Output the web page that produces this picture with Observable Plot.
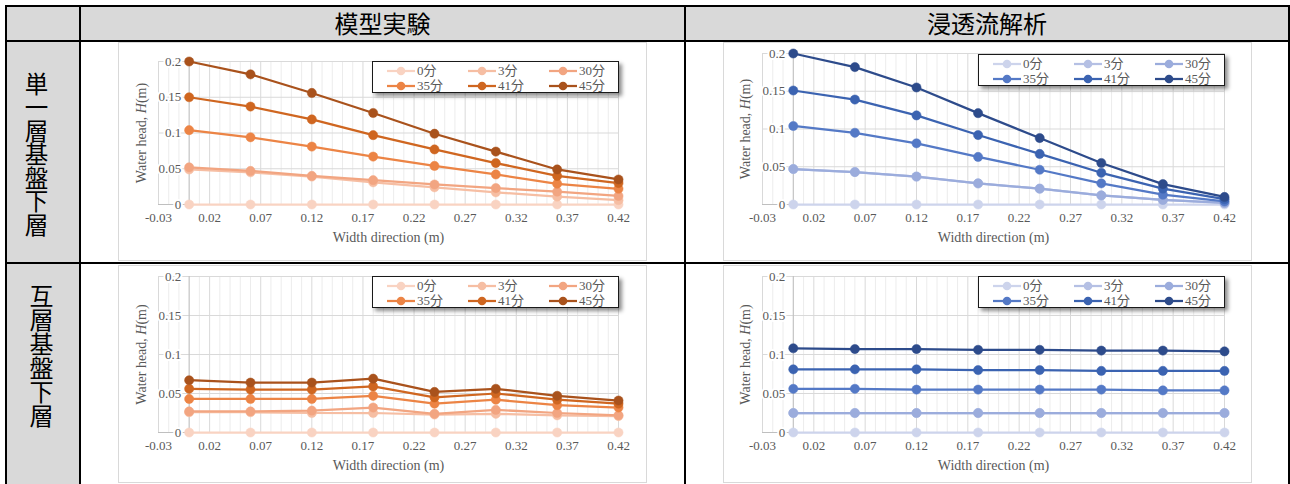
<!DOCTYPE html>
<html><head><meta charset="utf-8">
<script src="https://cdn.jsdelivr.net/npm/d3@7"></script>
<script src="https://cdn.jsdelivr.net/npm/@observablehq/plot@0.6"></script>
<style>
body{margin:0;background:#fff;}
#root{position:relative;width:1290px;height:484px;overflow:hidden;background:#fff;}
.gray{position:absolute;background:#D9D9D9;}
.bl{position:absolute;background:#000;}
.hdr{position:absolute;font-family:"Noto Sans CJK JP",sans-serif;font-size:24px;line-height:1;color:#000;text-align:center;}
.rowlab{position:absolute;font-family:"Noto Sans CJK JP",sans-serif;font-size:23.5px;line-height:1;writing-mode:vertical-rl;text-orientation:upright;color:#000;}
.chart{position:absolute;}
.chart > svg{position:absolute;left:0;top:0;}
.frame{position:absolute;left:0;top:0;right:0;bottom:0;border:1px solid #D9D9D9;pointer-events:none;}
.legend{position:absolute;background:#fff;border:1px solid #1a1a1a;box-shadow:3px 3px 4px rgba(0,0,0,0.45);box-sizing:border-box;width:247px;height:32px;padding:1px 0 0 14px;display:grid;grid-template-columns:81px 81px auto;grid-template-rows:15px 15px;font-family:"Liberation Serif","Noto Sans CJK JP",serif;font-size:13px;color:#595959;}
.legend .it{display:flex;align-items:center;white-space:nowrap;line-height:1;}
.legend .it svg{display:block;flex:none;}
.legend .it span{margin-left:2px;}
</style>
</head><body>
<div id="root"></div>
<script>
// ---- data ----
const xPositions = [0, 0.06, 0.12, 0.18, 0.24, 0.30, 0.36, 0.42];
const seriesNames = ["0分", "3分", "30分", "35分", "41分", "45分"];
const xTicks = [-0.03, 0.02, 0.07, 0.12, 0.17, 0.22, 0.27, 0.32, 0.37, 0.42];
const xTickLabels = ["-0.03", "0.02", "0.07", "0.12", "0.17", "0.22", "0.27", "0.32", "0.37", "0.42"];
const yTicks = [0, 0.05, 0.1, 0.15, 0.2];
const yTickLabels = ["0", "0.05", "0.1", "0.15", "0.2"];
const columnHeaders = ["模型実験", "浸透流解析"];
const rowHeaders = ["単一層基盤下層", "互層基盤下層"];
const xTitle = "Width direction (m)";
const yTitle = "Water head, H(m)";
const orangeColors = ["#F9D3C2", "#F6BEA3", "#F2A581", "#EC8445", "#CF6620", "#A9521C"];
const blueColors = ["#CDD4EC", "#B5C0E4", "#9BACDC", "#5479C6", "#3B63B1", "#2D4B8B"];

// 単一層基盤下層 / 模型実験
const singleExperiment = [
  [0, 0, 0, 0, 0, 0, 0, 0],
  [0.049, 0.045, 0.039, 0.031, 0.024, 0.017, 0.011, 0.006],
  [0.052, 0.047, 0.040, 0.034, 0.028, 0.023, 0.018, 0.012],
  [0.104, 0.094, 0.081, 0.067, 0.054, 0.042, 0.029, 0.022],
  [0.150, 0.137, 0.119, 0.097, 0.077, 0.058, 0.040, 0.030],
  [0.200, 0.182, 0.156, 0.128, 0.099, 0.074, 0.049, 0.035]
];
// 単一層基盤下層 / 浸透流解析
const singleAnalysis = [
  [0, 0, 0, 0, 0, 0, 0, 0],
  [0.047, 0.043, 0.037, 0.028, 0.021, 0.012, 0.006, 0.002],
  [0.047, 0.043, 0.037, 0.028, 0.021, 0.012, 0.006, 0.002],
  [0.104, 0.095, 0.081, 0.063, 0.046, 0.028, 0.013, 0.004],
  [0.151, 0.139, 0.118, 0.092, 0.067, 0.042, 0.021, 0.007],
  [0.200, 0.182, 0.155, 0.121, 0.088, 0.055, 0.027, 0.010]
];
// 互層基盤下層 / 模型実験
const layeredExperiment = [
  [0, 0, 0, 0, 0, 0, 0, 0],
  [0.026, 0.026, 0.025, 0.025, 0.023, 0.024, 0.022, 0.021],
  [0.027, 0.027, 0.028, 0.032, 0.024, 0.029, 0.025, 0.022],
  [0.043, 0.043, 0.043, 0.047, 0.037, 0.042, 0.035, 0.032],
  [0.056, 0.055, 0.055, 0.059, 0.045, 0.050, 0.042, 0.037],
  [0.067, 0.064, 0.064, 0.069, 0.052, 0.056, 0.047, 0.041]
];
// 互層基盤下層 / 浸透流解析
const layeredAnalysis = [
  [0, 0, 0, 0, 0, 0, 0, 0],
  [0.025, 0.025, 0.025, 0.025, 0.025, 0.025, 0.025, 0.025],
  [0.025, 0.025, 0.025, 0.025, 0.025, 0.025, 0.025, 0.025],
  [0.056, 0.056, 0.055, 0.055, 0.055, 0.055, 0.054, 0.054],
  [0.081, 0.081, 0.081, 0.080, 0.080, 0.079, 0.079, 0.079],
  [0.108, 0.107, 0.107, 0.106, 0.106, 0.105, 0.105, 0.104]
];

// ---- layout ----
const root = document.getElementById("root");
function box(cls, l, t, w, h) {
  const d = document.createElement("div");
  d.className = cls;
  Object.assign(d.style, {left: l + "px", top: t + "px", width: w + "px", height: h + "px"});
  root.appendChild(d);
  return d;
}
box("gray", 7, 7, 1281, 33);
box("gray", 7, 42, 72, 442);

function makeChart(values, colors, cfg) {
  const wrap = box("chart", cfg.left, cfg.top, cfg.width, cfg.height);
  const rows = values.flatMap((arr, si) => arr.map((v, i) => ({si, x: xPositions[i], y: v})));
  const minor = d3.range(0, 46).map(k => +(-0.03 + k * 0.01).toFixed(2))
    .filter(v => !xTicks.some(t => Math.abs(t - v) < 1e-9));
  const marks = [
    Plot.ruleX(minor, {stroke: "#ECECEC"}),
    Plot.ruleX(xTicks, {stroke: "#D9D9D9"}),
    Plot.ruleY(yTicks, {stroke: "#D9D9D9"}),
    Plot.ruleY([0], {stroke: "#BFBFBF"}),
    Plot.ruleX([0], {stroke: "#BFBFBF"})
  ];
  seriesNames.forEach((name, si) => {
    const d = rows.filter(r => r.si === si);
    marks.push(Plot.line(d, {x: "x", y: "y", stroke: colors[si], strokeWidth: 2.25}));
    marks.push(Plot.dot(d, {x: "x", y: "y", r: 4.6, fill: colors[si], stroke: colors[si], strokeWidth: 0.5}));
  });
  marks.push(Plot.text(yTicks, {x: 0, y: d => d, text: (d, i) => yTickLabels[i], textAnchor: "end", dx: -8,
    fill: "#595959", stroke: "white", strokeWidth: 4, paintOrder: "stroke", fontSize: 13}));
  marks.push(Plot.text(xTicks, {x: d => d, text: (d, i) => xTickLabels[i], frameAnchor: "bottom", dy: 17,
    fill: "#595959", fontSize: 13}));
  marks.push(Plot.text([xTitle], {frameAnchor: "bottom", dy: 37, fill: "#595959", fontSize: 14}));
  marks.push(Plot.text([yTitle], {frameAnchor: "left", textAnchor: "middle", dx: -17, rotate: -90, fill: "#595959", fontSize: 14}));
  const svg = Plot.plot({
    width: cfg.width, height: cfg.height,
    marginLeft: cfg.ml, marginRight: cfg.mr, marginTop: cfg.mt, marginBottom: cfg.mb,
    x: {domain: [-0.03, 0.42], axis: null},
    y: {domain: [0, 0.2], axis: null},
    style: {fontFamily: "'Liberation Serif', serif", background: "transparent", overflow: "visible"},
    marks
  });
  svg.querySelectorAll("text").forEach(t => {
    if (t.textContent === yTitle) {
      t.innerHTML = 'Water head, <tspan font-style="italic">H</tspan>(m)';
    }
  });
  wrap.appendChild(svg);
  const fr = document.createElement("div");
  fr.className = "frame";
  wrap.appendChild(fr);
  const lg = document.createElement("div");
  lg.className = "legend";
  lg.style.right = (cfg.mr - 1) + "px";
  lg.style.top = (cfg.mt + cfg.lgdy) + "px";
  seriesNames.forEach((name, si) => {
    const it = document.createElement("div");
    it.className = "it";
    it.innerHTML = `<svg width="28" height="10"><line x1="0" x2="28" y1="5" y2="5" stroke="${colors[si]}" stroke-width="2.25"/><circle cx="14" cy="5" r="4.3" fill="${colors[si]}"/></svg><span>${name}</span>`;
    lg.appendChild(it);
  });
  wrap.appendChild(lg);
}

makeChart(singleExperiment, orangeColors, {left: 118, top: 42, width: 529, height: 219, ml: 40, mr: 29, mt: 19, mb: 57, lgdy: 0});
makeChart(singleAnalysis, blueColors, {left: 723, top: 42, width: 529, height: 219, ml: 39, mr: 28, mt: 11, mb: 57, lgdy: 1});
makeChart(layeredExperiment, orangeColors, {left: 118, top: 265, width: 529, height: 218, ml: 40, mr: 29, mt: 11, mb: 51, lgdy: 0});
makeChart(layeredAnalysis, blueColors, {left: 723, top: 265, width: 529, height: 218, ml: 39, mr: 28, mt: 11, mb: 51, lgdy: 0});

// headers
const h1 = box("hdr", 81, 11, 603, 26); h1.textContent = columnHeaders[0];
const h2 = box("hdr", 686, 11, 602, 26); h2.textContent = columnHeaders[1];
const r1 = document.createElement("div"); r1.className = "rowlab"; r1.textContent = rowHeaders[0];
Object.assign(r1.style, {left: "24px", top: "72px"}); root.appendChild(r1);
const r2 = document.createElement("div"); r2.className = "rowlab"; r2.textContent = rowHeaders[1];
Object.assign(r2.style, {left: "29px", top: "284px", fontSize: "24px"}); root.appendChild(r2);

// table lines
box("bl", 5, 5, 1285, 2);
box("bl", 5, 5, 2, 479);
box("bl", 1288, 5, 2, 479);
box("bl", 5, 40, 1285, 2);
box("bl", 5, 262, 1285, 2);
box("bl", 79, 5, 2, 479);
box("bl", 684, 5, 2, 479);
</script>
</body></html>
